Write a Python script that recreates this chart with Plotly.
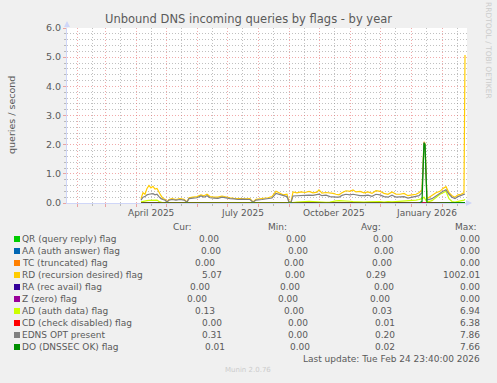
import plotly.graph_objects as go
import pandas as pd

# ---------------- data ----------------
dates = [
    "2025-04-06", "2025-04-08", "2025-04-10", "2025-04-12", "2025-04-14", "2025-04-16",
    "2025-04-18", "2025-04-20", "2025-04-22", "2025-04-24", "2025-04-26", "2025-04-28",
    "2025-04-30", "2025-05-02", "2025-05-04", "2025-05-07", "2025-05-11", "2025-05-15",
    "2025-05-19", "2025-05-22", "2025-05-24", "2025-05-28", "2025-06-01", "2025-06-05",
    "2025-06-08", "2025-06-11", "2025-06-14", "2025-06-18", "2025-06-22", "2025-06-26",
    "2025-06-30", "2025-07-04", "2025-07-08", "2025-07-12", "2025-07-16", "2025-07-20",
    "2025-07-24", "2025-07-27", "2025-07-30", "2025-08-05", "2025-08-11", "2025-08-15",
    "2025-08-19", "2025-08-22", "2025-08-26", "2025-08-30", "2025-09-01", "2025-09-03",
    "2025-09-05", "2025-09-09", "2025-09-13", "2025-09-17", "2025-09-21", "2025-09-25",
    "2025-09-29", "2025-10-01", "2025-10-04", "2025-10-08", "2025-10-12", "2025-10-15",
    "2025-10-18", "2025-10-21", "2025-10-24", "2025-10-28", "2025-11-01", "2025-11-04",
    "2025-11-07", "2025-11-11", "2025-11-15", "2025-11-19", "2025-11-23", "2025-11-27",
    "2025-12-01", "2025-12-05", "2025-12-09", "2025-12-13", "2025-12-17", "2025-12-21",
    "2025-12-25", "2025-12-29", "2026-01-02", "2026-01-06", "2026-01-09", "2026-01-12",
    "2026-01-14", "2026-01-15", "2026-01-17", "2026-01-22", "2026-01-26", "2026-01-30",
    "2026-02-02", "2026-02-05", "2026-02-08", "2026-02-11", "2026-02-14", "2026-02-17",
    "2026-02-20", "2026-02-23", "2026-02-24",
]

rd_values = [
    0.15, 0.35, 0.30, 0.50, 0.60, 0.52, 0.57, 0.48, 0.50, 0.35, 0.25, 0.15,
    0.13, 0.04, 0.12, 0.15, 0.12, 0.15, 0.13, 0.04, 0.18, 0.20, 0.22, 0.28,
    0.25, 0.30, 0.22, 0.20, 0.20, 0.24, 0.20, 0.18, 0.16, 0.15, 0.16, 0.14,
    0.15, 0.04, 0.13, 0.15, 0.18, 0.22, 0.40, 0.35, 0.28, 0.30, 0.05, 0.03,
    0.38, 0.35, 0.38, 0.36, 0.40, 0.35, 0.37, 0.45, 0.34, 0.36, 0.35, 0.33,
    0.30, 0.28, 0.35, 0.42, 0.40, 0.45, 0.38, 0.40, 0.35, 0.38, 0.33, 0.42,
    0.40, 0.33, 0.30, 0.38, 0.30, 0.30, 0.33, 0.25, 0.28, 0.30, 0.35, 0.45,
    2.10, 2.05, 0.15, 0.25, 0.35, 0.40, 0.50, 0.56, 0.35, 0.25, 0.20, 0.28,
    0.30, 0.35, 5.07,
]

edns_values = [
    0.10, 0.20, 0.22, 0.28, 0.30, 0.30, 0.32, 0.28, 0.30, 0.22, 0.15, 0.12,
    0.10, 0.03, 0.10, 0.12, 0.10, 0.12, 0.10, 0.03, 0.15, 0.17, 0.18, 0.24,
    0.20, 0.25, 0.18, 0.17, 0.16, 0.20, 0.17, 0.15, 0.14, 0.12, 0.13, 0.12,
    0.12, 0.03, 0.10, 0.12, 0.14, 0.17, 0.33, 0.30, 0.25, 0.22, 0.03, 0.02,
    0.24, 0.25, 0.26, 0.25, 0.27, 0.26, 0.27, 0.30, 0.25, 0.27, 0.22, 0.20,
    0.20, 0.20, 0.26, 0.30, 0.28, 0.30, 0.27, 0.25, 0.25, 0.27, 0.23, 0.30,
    0.28, 0.22, 0.20, 0.27, 0.20, 0.20, 0.22, 0.17, 0.20, 0.22, 0.25, 0.35,
    2.08, 2.02, 0.10, 0.15, 0.25, 0.32, 0.40, 0.45, 0.30, 0.20, 0.15, 0.22,
    0.25, 0.30, 0.31,
]

ad_values = [
    0.04, 0.06, 0.07, 0.08, 0.09, 0.09, 0.10, 0.09, 0.10, 0.05, 0.02, 0.01,
    0.00, 0.00, 0.00, 0.00, 0.00, 0.00, 0.00, 0.00, 0.00, 0.00, 0.00, 0.00,
    0.00, 0.00, 0.00, 0.00, 0.00, 0.00, 0.00, 0.00, 0.00, 0.00, 0.00, 0.00,
    0.00, 0.00, 0.00, 0.00, 0.00, 0.00, 0.00, 0.00, 0.00, 0.00, 0.00, 0.00,
    0.01, 0.03, 0.05, 0.05, 0.06, 0.05, 0.05, 0.04, 0.02, 0.02, 0.03, 0.06,
    0.07, 0.08, 0.08, 0.07, 0.06, 0.05, 0.04, 0.03, 0.03, 0.04, 0.05, 0.06,
    0.05, 0.03, 0.05, 0.04, 0.05, 0.06, 0.05, 0.07, 0.08, 0.10, 0.12, 0.15,
    0.20, 0.15, 0.03, 0.08, 0.20, 0.30, 0.35, 0.40, 0.15, 0.05, 0.03, 0.05,
    0.08, 0.10, 0.13,
]

do_values = [
    0.00, 0.00, 0.00, 0.00, 0.00, 0.00, 0.00, 0.00, 0.00, 0.00, 0.00, 0.00,
    0.00, 0.00, 0.00, 0.00, 0.00, 0.00, 0.00, 0.00, 0.00, 0.00, 0.00, 0.00,
    0.00, 0.00, 0.00, 0.00, 0.00, 0.00, 0.00, 0.00, 0.00, 0.00, 0.00, 0.00,
    0.00, 0.00, 0.02, 0.02, 0.00, 0.00, 0.00, 0.00, 0.00, 0.00, 0.00, 0.00,
    0.00, 0.00, 0.00, 0.00, 0.00, 0.00, 0.00, 0.00, 0.00, 0.00, 0.00, 0.00,
    0.02, 0.02, 0.02, 0.01, 0.00, 0.00, 0.02, 0.02, 0.00, 0.00, 0.00, 0.00,
    0.00, 0.00, 0.00, 0.00, 0.00, 0.00, 0.00, 0.00, 0.00, 0.00, 0.00, 0.05,
    2.05, 2.00, 0.00, 0.00, 0.00, 0.00, 0.00, 0.00, 0.00, 0.00, 0.00, 0.00,
    0.00, 0.00, 0.01,
]

zero_values = [0.0] * len(dates)

names = [
    "QR (query reply) flag", "AA (auth answer) flag", "TC (truncated) flag",
    "RD (recursion desired) flag", "RA (rec avail) flag", "Z (zero) flag",
    "AD (auth data) flag", "CD (check disabled) flag", "EDNS OPT present",
    "DO (DNSSEC OK) flag",
]
colors = ["#00CC00", "#0066B3", "#FF8000", "#FFCC00", "#330099", "#990099",
          "#CCFF00", "#FF0000", "#808080", "#008F00"]
values = [zero_values, zero_values, zero_values, rd_values, zero_values, zero_values,
          ad_values, zero_values, edns_values, do_values]

cur = ["0.00", "0.00", "0.00", "5.07", "0.00", "0.00", "0.13", "0.00", "0.31", "0.01"]
mins = ["0.00"] * 10
avgs = ["0.00", "0.00", "0.00", "0.29", "0.00", "0.00", "0.03", "0.01", "0.20", "0.02"]
maxs = ["0.00", "0.00", "0.00", "1002.01", "0.00", "0.00", "6.94", "6.38", "7.86", "7.66"]

x_label_text = ["April 2025", "July 2025", "October 2025", "January 2026"]
x_label_pos = ["2025-04-16", "2025-07-16", "2025-10-16", "2026-01-16"]
x_range = ["2025-01-22", "2026-02-26"]

title = "Unbound DNS incoming queries by flags - by year"
ylabel = "queries / second"
last_update = "Last update: Tue Feb 24 23:40:00 2026"
credit = "Munin 2.0.76"
rrd_credit = "RRDTOOL / TOBI OETIKER"

# ---------------- layout geometry ----------------
W, H = 497, 383
L, R, T, B = 67, 30, 28, 180
PW, PH = W - L - R, H - T - B
BOT = T + PH

def px(x):
    return (x - L) / PW

def py(y):
    return (BOT - y) / PH

FONT = "DejaVu Sans"
FC = "#5a5a5a"
LIGHT = "#cccccc"
AXC = "#CFD6F8"
FS = 9

month_starts = pd.date_range("2025-02-01", "2026-02-01", freq="MS")
mid_months = pd.date_range("2025-02-01", "2026-02-01", freq="MS") + pd.Timedelta(days=15)

fig = go.Figure()
for name, color, vals in zip(names, colors, values):
    fig.add_trace(go.Scatter(
        x=pd.to_datetime(dates), y=vals, mode="lines", name=name,
        line=dict(color=color, width=1.2), showlegend=False, hoverinfo="skip",
    ))

ann = []
ann.append(dict(text=title, x=px(248), y=py(19), xref="paper", yref="paper",
                showarrow=False, xanchor="center", yanchor="middle",
                font=dict(family=FONT, size=11.5, color=FC)))
ann.append(dict(text=ylabel, x=px(11), y=py(115), xref="paper", yref="paper",
                showarrow=False, textangle=-90, xanchor="center", yanchor="middle",
                font=dict(family=FONT, size=9.5, color=FC)))
ann.append(dict(text=rrd_credit, x=px(488), y=py(50), xref="paper", yref="paper",
                showarrow=False, textangle=90, xanchor="center", yanchor="middle",
                font=dict(family=FONT, size=7.5, color=LIGHT)))
for txt, pos in zip(x_label_text, x_label_pos):
    ann.append(dict(text=txt, x=pos, y=py(213), xref="x", yref="paper",
                    showarrow=False, xanchor="center", yanchor="middle",
                    font=dict(family=FONT, size=FS, color=FC)))

# legend header
for txt, cx in zip(["Cur:", "Min:", "Avg:", "Max:"], [182, 277, 371, 466]):
    ann.append(dict(text=txt, x=px(cx), y=py(227), xref="paper", yref="paper",
                    showarrow=False, xanchor="center", yanchor="middle",
                    font=dict(family=FONT, size=FS, color=FC)))

cur_r = [221, 223, 217, 224, 212, 209, 217, 224, 224, 227]
min_r = [308, 310, 306, 307, 302, 300, 306, 310, 310, 312]
avg_r = [395, 396, 394, 388, 396, 392, 394, 397, 397, 397]
max_r = [482] * 10

shapes = []
for i, (name, color) in enumerate(zip(names, colors)):
    ry = 239 + 12 * i
    shapes.append(dict(type="rect", xref="paper", yref="paper",
                       x0=px(14), x1=px(20), y0=py(ry + 3), y1=py(ry - 3),
                       fillcolor=color, line=dict(width=0)))
    ann.append(dict(text=name, x=px(20), y=py(ry), xref="paper", yref="paper",
                    showarrow=False, xanchor="left", yanchor="middle",
                    font=dict(family=FONT, size=FS, color=FC)))
    for col, rights in zip([cur, mins, avgs, maxs], [cur_r, min_r, avg_r, max_r]):
        ann.append(dict(text=col[i], x=px(rights[i]), y=py(ry), xref="paper", yref="paper",
                        showarrow=False, xanchor="right", yanchor="middle",
                        font=dict(family=FONT, size=FS, color=FC)))

ann.append(dict(text=last_update, x=px(482), y=py(359), xref="paper", yref="paper",
                showarrow=False, xanchor="right", yanchor="middle",
                font=dict(family=FONT, size=FS, color=FC)))
ann.append(dict(text=credit, x=px(248), y=py(370), xref="paper", yref="paper",
                showarrow=False, xanchor="center", yanchor="middle",
                font=dict(family=FONT, size=7, color=LIGHT)))

# axis arrows
ann.append(dict(text="", x=px(472), y=0, xref="paper", yref="paper", showarrow=True,
                ax=-8, ay=0, arrowhead=2, arrowsize=1.2, arrowwidth=1, arrowcolor=AXC))
ann.append(dict(text="", x=0, y=py(21), xref="paper", yref="paper", showarrow=True,
                ax=0, ay=8, arrowhead=2, arrowsize=1.2, arrowwidth=1, arrowcolor=AXC))

MAJ = "rgba(230,100,100,0.55)"
MIN = "rgba(130,130,130,0.50)"

fig.update_layout(
    width=W, height=H,
    margin=dict(l=L, r=R, t=T, b=B, pad=0),
    paper_bgcolor="#F0F0F0", plot_bgcolor="#FFFFFF",
    annotations=ann, shapes=shapes,
    showlegend=False,
    xaxis=dict(
        type="date", range=x_range, tickmode="array", tickvals=list(month_starts),
        showticklabels=False, showgrid=True, gridcolor=MAJ, griddash="1px,2px", gridwidth=1,
        ticks="outside", ticklen=3, tickcolor=MAJ,
        minor=dict(tickmode="array", tickvals=list(mid_months), showgrid=True,
                   gridcolor=MIN, griddash="1px,2px", gridwidth=1,
                   ticks="outside", ticklen=2, tickcolor=MIN),
        showline=True, linecolor=AXC, linewidth=1, zeroline=False, fixedrange=True,
    ),
    yaxis=dict(
        range=[0, 6], tickmode="linear", tick0=0, dtick=1, tickformat=".1f",
        showgrid=True, gridcolor=MAJ, griddash="1px,2px", gridwidth=1,
        ticks="outside", ticklen=3, tickcolor=MAJ,
        tickfont=dict(family=FONT, size=9.5, color=FC),
        minor=dict(dtick=0.2, showgrid=True, gridcolor=MIN, griddash="1px,2px",
                   gridwidth=1, ticks="outside", ticklen=2, tickcolor=MIN),
        showline=True, linecolor=AXC, linewidth=1, zeroline=False, fixedrange=True,
    ),
)

fig.write_html("out.html")
